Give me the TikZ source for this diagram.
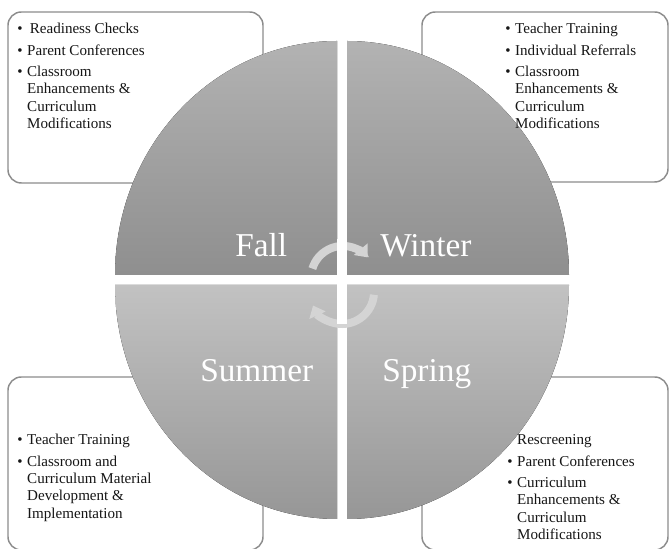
\documentclass[tikz,border=0pt]{standalone}
\usepackage{fontspec}
\setmainfont{Liberation Serif}
\usetikzlibrary{arrows.meta,positioning}
\definecolor{boxline}{HTML}{8C8C8C}
\definecolor{boxtext}{HTML}{161616}
\definecolor{turncolor}{HTML}{D4D4D4}
\newcommand{\bul}{\textbullet}
\newcommand{\seasonlist}[1]{\begin{tabular}[t]{@{}l@{\hspace{3.5pt}}l@{}}#1\end{tabular}}

\begin{document}
\begin{tikzpicture}[x=0.75pt,y=0.75pt,
  seasonbox/.style={draw=boxline, line width=1.1pt, fill=white, rounded corners=10pt},
  itemtext/.style={text=boxtext, font=\fontsize{11.3}{13}\selectfont, inner sep=0pt, anchor=base west},
  season/.style={text=white, font=\fontsize{25}{28}\selectfont, inner sep=0pt, anchor=base west},
  topquad/.style={top color=black!30, bottom color=black!44},
  botquad/.style={top color=black!24, bottom color=black!41},
  turnarrow/.style={draw=turncolor, line width=6pt, -{Triangle[width=13pt,length=8pt]}}]

    \useasboundingbox (0,0) rectangle (669,549);

    % boxes behind the wheel
    \draw[seasonbox] (8,537) rectangle (263,366);
    \draw[seasonbox] (422,537) rectangle (668,367);
    \draw[seasonbox] (8,172) rectangle (263,-1);
    \draw[seasonbox] (422,172) rectangle (668,-1);

    % the four quarters
    \fill[topquad] (337,274) -- (115,274) arc[start angle=180, end angle=90, x radius=222, y radius=234] -- cycle;
    \fill[topquad] (347,274) -- (569,274) arc[start angle=0, end angle=90, x radius=222, y radius=234] -- cycle;
    \fill[botquad] (337,264) -- (115,264) arc[start angle=180, end angle=270, x radius=222, y radius=234] -- cycle;
    \fill[botquad] (347,264) -- (569,264) arc[start angle=0, end angle=-90, x radius=222, y radius=234] -- cycle;

    % turning arrows
    \draw[turnarrow] (312.4,280.4) arc[start angle=163, end angle=40, radius=32];
    \draw[turnarrow] (373.9,254.2) arc[start angle=-5, end angle=-155, radius=32];
    \fill[white] (337,225) rectangle (347,310);

    \node[season] (fall) at (235,292) {Fall};
    \node[season] (winter) at (380,292) {Winter};
    \node[season] (summer) at (200,167) {Summer};
    \node[season] (spring) at (382,167) {Spring};

    \node[itemtext] (falllist) at (17,515) {\seasonlist{%
      \bul & \hspace{2pt}Readiness Checks\\[3pt]
      \bul & Parent Conferences\\[3pt]
      \bul & Classroom\\
           & Enhancements \&\\
           & Curriculum\\
           & Modifications}};
    \node[itemtext] (winterlist) at (505,515) {\seasonlist{%
      \bul & Teacher Training\\[3pt]
      \bul & Individual Referrals\\[3pt]
      \bul & Classroom\\
           & Enhancements \&\\
           & Curriculum\\
           & Modifications}};
    \node[itemtext] (summerlist) at (17,104) {\seasonlist{%
      \bul & Teacher Training\\[3pt]
      \bul & Classroom and\\
           & Curriculum Material\\
           & Development \&\\
           & Implementation}};
    \node[itemtext] (springlist) at (507,104) {\seasonlist{%
           & Rescreening\\[3pt]
      \bul & Parent Conferences\\[3pt]
      \bul & Curriculum\\
           & Enhancements \&\\
           & Curriculum\\
           & Modifications}};

\end{tikzpicture}
\end{document}
